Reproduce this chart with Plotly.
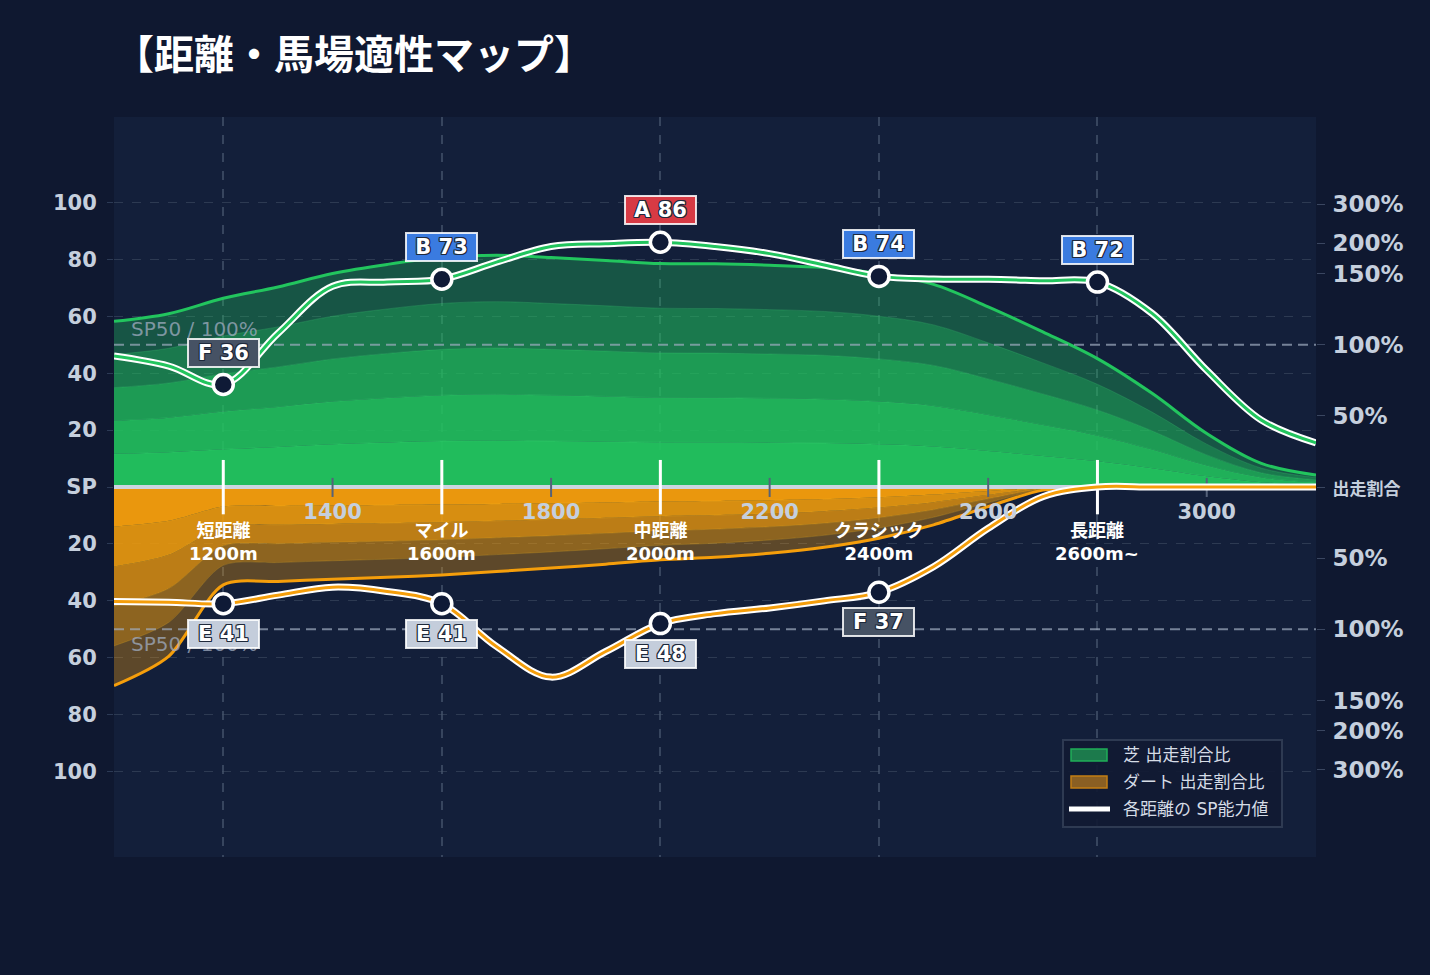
import plotly.graph_objects as go

# ---------------- data ----------------
distance = [1000, 1100, 1200, 1300, 1400, 1500, 1600, 1700, 1800, 1900, 2000,
            2100, 2200, 2300, 2400, 2500, 2600, 2700, 2800, 2900, 3000, 3100, 3200]
turf_ratio = [58.2, 60.9, 66.3, 70.3, 75.0, 78.2, 80.6, 81.4, 80.6, 79.6, 78.5,
              78.4, 77.9, 77.1, 75.0, 71.2, 63.3, 54.5, 45.1, 32.9, 18.8, 8.3, 4.2]
dirt_ratio = [69.8, 59.5, 34.4, 33.2, 32.4, 31.7, 30.9, 29.7, 28.5, 27.1, 25.6,
              24.7, 23.3, 21.2, 18.0, 13.3, 6.9, 1.1, 0, 0, 0, 0, 0]
turf_sp = [46.0, 42.5, 36.0, 54.0, 70.5, 72.0, 73.0, 79.0, 84.5, 85.5, 86.0,
           84.5, 82.0, 78.0, 74.0, 73.1, 73.0, 72.5, 72.0, 61.0, 41.0, 23.5, 15.5]
dirt_sp = [40.2, 40.5, 41.0, 38.0, 35.2, 36.7, 41.0, 56.0, 66.8, 57.8, 48.0,
           44.5, 42.5, 40.0, 37.0, 28.0, 14.5, 3.4, 0, 0, 0, 0, 0]

cat_dist = [1200, 1600, 2000, 2400, 2800]
cat_name = ['短距離', 'マイル', '中距離', 'クラシック', '長距離']
cat_sub = ['1200m', '1600m', '2000m', '2400m', '2600m~']
turf_grade = ['F', 'B', 'A', 'B', 'B']
dirt_grade = ['E', 'E', 'E', 'F', None]

axis_ticks = [1400, 1800, 2200, 2600, 3000]
sp_tick_vals = [100, 80, 60, 40, 20, 0, -20, -40, -60, -80, -100]
sp_tick_text = ['100', '80', '60', '40', '20', 'SP', '20', '40', '60', '80', '100']
ratio_tick_vals = [99.3, 85.7, 75, 50, 25, 0, -25, -50, -75, -85.7, -99.3]
ratio_tick_text = ['300%', '200%', '150%', '100%', '50%',
                   '<span style="font-size:17px">出走割合</span>',
                   '50%', '100%', '150%', '200%', '300%']
band_levels = [0.2, 0.4, 0.6, 0.8, 1.0]
band_alpha = [0.95, 0.87, 0.75, 0.54, 0.33]
sp50 = 50
x_range = [1000, 3200]
y_range = [-130, 130]
legend_labels = ['芝 出走割合比', 'ダート 出走割合比', '各距離の SP能力値']

# ---------------- style ----------------
FONT = 'DejaVu Sans, Noto Sans CJK JP'
PAGE_BG = '#0f1830'
PLOT_BG = '#131f3a'
TURF = '#22c55e'
DIRT = '#f59e0b'
AXIS_TXT = '#c5cfdd'
GRADE_COLORS = {'A': '#d73a44', 'B': '#3a7be0', 'C': '#22a05a', 'D': '#d08a10',
                'E': '#c4cddb', 'F': '#465264'}
OUTLINE = ('1px 1px 0 #1e293b, -1px -1px 0 #1e293b, 1px -1px 0 #1e293b, '
           '-1px 1px 0 #1e293b, 0 1px 0 #1e293b, 0 -1px 0 #1e293b, '
           '1px 0 0 #1e293b, -1px 0 0 #1e293b')
W, H = 1430, 975
ML, MR, MT, MB = 114, 114, 117, 118


def px_x(x):
    return (x - ML) / (W - ML - MR)


def px_y(y):
    return (H - MB - y) / (H - MT - MB)


fig = go.Figure()

# turf ratio bands
for i, (lv, a) in enumerate(zip(band_levels, band_alpha)):
    outer = i == len(band_levels) - 1
    fig.add_trace(go.Scatter(
        x=distance, y=[v * lv for v in turf_ratio], mode='lines',
        line=dict(shape='spline', width=3 if outer else 1,
                  color=TURF if outer else 'rgba(74,222,128,0.22)'),
        fill='tozeroy' if i == 0 else 'tonexty',
        fillcolor=f'rgba(34,197,94,{a})', showlegend=False, hoverinfo='skip'))

# dirt ratio bands (drawn downward)
for i, (lv, a) in enumerate(zip(band_levels, band_alpha)):
    outer = i == len(band_levels) - 1
    fig.add_trace(go.Scatter(
        x=distance, y=[-v * lv for v in dirt_ratio], mode='lines',
        line=dict(shape='spline', smoothing=0.8, width=3 if outer else 1,
                  color=DIRT if outer else 'rgba(251,191,36,0.22)'),
        fill='tozeroy' if i == 0 else 'tonexty',
        fillcolor=f'rgba(245,158,11,{a})', showlegend=False, hoverinfo='skip'))

# SP50 reference lines
for s in (sp50, -sp50):
    fig.add_trace(go.Scatter(
        x=x_range, y=[s, s], mode='lines',
        line=dict(color='rgba(160,172,192,0.7)', width=2, dash='10px,6px'),
        showlegend=False, hoverinfo='skip'))

# centre line
fig.add_trace(go.Scatter(x=x_range, y=[0, 0], mode='lines',
                         line=dict(color='#cbd5e1', width=4),
                         showlegend=False, hoverinfo='skip'))

# small axis ticks
tx, ty = [], []
for d in axis_ticks:
    tx += [d, d, None]
    ty += [3.2, -3.5, None]
fig.add_trace(go.Scatter(x=tx, y=ty, mode='lines',
                         line=dict(color='#55627a', width=2),
                         showlegend=False, hoverinfo='skip'))
# category ticks
cx, cy = [], []
for d in cat_dist:
    cx += [d, d, None]
    cy += [9.5, -9.6, None]
fig.add_trace(go.Scatter(x=cx, y=cy, mode='lines',
                         line=dict(color='white', width=3),
                         showlegend=False, hoverinfo='skip'))

# SP lines
fig.add_trace(go.Scatter(x=distance, y=turf_sp, mode='lines',
                         line=dict(shape='spline', color='white', width=7),
                         showlegend=False, hoverinfo='skip'))
fig.add_trace(go.Scatter(x=distance, y=turf_sp, mode='lines',
                         line=dict(shape='spline', color=TURF, width=3),
                         showlegend=False, hoverinfo='skip'))
fig.add_trace(go.Scatter(x=distance, y=[-v for v in dirt_sp], mode='lines',
                         line=dict(shape='spline', color='white', width=7),
                         showlegend=False, hoverinfo='skip'))
fig.add_trace(go.Scatter(x=distance, y=[-v for v in dirt_sp], mode='lines',
                         line=dict(shape='spline', color=DIRT, width=3),
                         showlegend=False, hoverinfo='skip'))

# markers
mx, my = [], []
for d in cat_dist:
    mx.append(d)
    my.append(turf_sp[distance.index(d)])
for d, g in zip(cat_dist, dirt_grade):
    if g:
        mx.append(d)
        my.append(-dirt_sp[distance.index(d)])
fig.add_trace(go.Scatter(x=mx, y=my, mode='markers',
                         marker=dict(size=20, color='#0f1a36',
                                     line=dict(color='white', width=3.5)),
                         showlegend=False, hoverinfo='skip'))

# right axis carrier
fig.add_trace(go.Scatter(x=[x_range[0]], y=[0], yaxis='y2', mode='markers',
                         marker=dict(opacity=0), showlegend=False, hoverinfo='skip'))

# SP50 labels
fig.add_annotation(x=x_range[0], y=sp50, text='SP50 / 100%', showarrow=False,
                   xanchor='left', yanchor='bottom', xshift=15, yshift=2,
                   font=dict(family=FONT, size=20, color='rgba(160,172,192,0.75)'))
fig.add_annotation(x=x_range[0], y=-sp50, text='SP50 / 100%', showarrow=False,
                   xanchor='left', yanchor='top', xshift=15, yshift=-1,
                   font=dict(family=FONT, size=20, color='rgba(160,172,192,0.75)'))

# category labels
for d, n, s in zip(cat_dist, cat_name, cat_sub):
    fig.add_annotation(x=d, y=0, text=f'{n}<br>{s}', showarrow=False,
                       yanchor='top', yshift=-31,
                       font=dict(family=FONT, size=18, color='white', weight='bold'))


# grade badges
def badge(x, y, g, v, shift):
    fig.add_annotation(x=x, y=y, text=f'{g} {round(v)}', showarrow=False,
                       yshift=shift, bgcolor=GRADE_COLORS[g],
                       bordercolor='rgba(255,255,255,0.85)', borderwidth=2,
                       borderpad=1, width=67, height=24,
                       font=dict(family=FONT, size=21, color='white',
                                 weight='bold', shadow=OUTLINE))


for d, g in zip(cat_dist, turf_grade):
    v = turf_sp[distance.index(d)]
    badge(d, v, g, v, 32)
for d, g in zip(cat_dist, dirt_grade):
    if g:
        v = dirt_sp[distance.index(d)]
        badge(d, -v, g, v, -30)

# legend (box, swatches, labels)
shapes = [
    dict(type='rect', xref='paper', yref='paper', layer='above',
         x0=px_x(1063), x1=px_x(1282), y0=px_y(827), y1=px_y(740),
         fillcolor='rgba(17,26,51,0.92)', line=dict(color='#2e3a52', width=2)),
    dict(type='rect', xref='paper', yref='paper', layer='above',
         x0=px_x(1071), x1=px_x(1107), y0=px_y(761), y1=px_y(749),
         fillcolor='#1c7a4c', line=dict(color='#1fae58', width=1.5)),
    dict(type='rect', xref='paper', yref='paper', layer='above',
         x0=px_x(1071), x1=px_x(1107), y0=px_y(788), y1=px_y(776),
         fillcolor='#8a5f23', line=dict(color='#c47f14', width=1.5)),
    dict(type='line', xref='paper', yref='paper', layer='above',
         x0=px_x(1069), x1=px_x(1110), y0=px_y(809), y1=px_y(809),
         line=dict(color='white', width=5)),
]
for lbl, yy in zip(legend_labels, [755, 782, 809]):
    fig.add_annotation(xref='paper', yref='paper', x=px_x(1121), y=px_y(yy),
                       text=lbl, showarrow=False, xanchor='left', yanchor='middle',
                       font=dict(family=FONT, size=17, color='#d5dce6'))

fig.update_layout(
    width=W, height=H,
    margin=dict(l=ML, r=MR, t=MT, b=MB),
    paper_bgcolor=PAGE_BG, plot_bgcolor=PLOT_BG,
    shapes=shapes,
    title=dict(text='【距離・馬場適性マップ】', x=114 / W, xanchor='left',
               y=1 - 55 / H, yanchor='middle', xref='container', yref='container',
               font=dict(family='Noto Sans CJK JP', size=40, color='white',
                         weight='bold')),
    xaxis=dict(range=x_range, anchor='free', position=0.5,
               tickmode='array', tickvals=axis_ticks, ticks='', showline=False,
               showgrid=False, zeroline=False, ticklabelstandoff=10,
               tickfont=dict(family=FONT, size=21, color=AXIS_TXT, weight='bold'),
               minor=dict(tickmode='array', tickvals=cat_dist, showgrid=True,
                          gridcolor='rgba(100,116,139,0.45)', griddash='dash',
                          gridwidth=2, ticks='')),
    yaxis=dict(range=y_range, tickmode='array', tickvals=sp_tick_vals,
               ticktext=sp_tick_text, showgrid=True,
               gridcolor='rgba(71,85,105,0.5)', griddash='dash', gridwidth=1,
               zeroline=False, ticks='outside', ticklen=6, tickcolor='#2c3a55',
               ticklabelstandoff=6,
               tickfont=dict(family=FONT, size=21, color=AXIS_TXT, weight='bold')),
    yaxis2=dict(range=y_range, overlaying='y', side='right', tickmode='array',
                tickvals=ratio_tick_vals, ticktext=ratio_tick_text,
                showgrid=False, zeroline=False, ticks='outside', ticklen=8,
                tickcolor='#3a4660', ticklabelstandoff=3,
                tickfont=dict(family=FONT, size=23, color=AXIS_TXT, weight='bold')),
    showlegend=False,
    hovermode=False,
)

fig.write_html('out.html', config={'displayModeBar': False},
               post_script="document.body.style.margin='0';"
                           "document.body.style.background='#0f1830';")
